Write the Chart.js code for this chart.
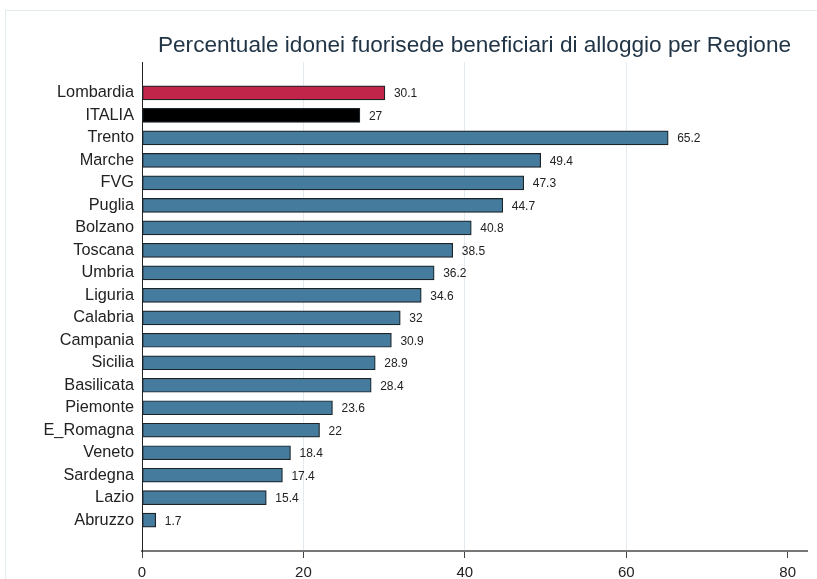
<!DOCTYPE html>
<html>
<head>
<meta charset="utf-8">
<script src="https://cdn.jsdelivr.net/npm/chart.js@4/dist/chart.umd.min.js"></script>
<style>
  html, body { margin: 0; padding: 0; background: #fff; }
  #wrap { position: relative; width: 817px; height: 579px; overflow: hidden; }
  #frame { position: absolute; left: 5px; top: 10px; width: 900px; height: 700px; border: 1px solid #e3ecec; }
  canvas { position: absolute; left: 0; top: 0; }
</style>
</head>
<body>
<div id="wrap">
  <div id="frame"></div>
  <canvas id="chart" width="817" height="579"></canvas>
</div>
<script>
const regions = ['Lombardia', 'ITALIA', 'Trento', 'Marche', 'FVG', 'Puglia', 'Bolzano', 'Toscana', 'Umbria', 'Liguria',
  'Calabria', 'Campania', 'Sicilia', 'Basilicata', 'Piemonte', 'E_Romagna', 'Veneto', 'Sardegna', 'Lazio', 'Abruzzo'];
const percentuali = [30.1, 27, 65.2, 49.4, 47.3, 44.7, 40.8, 38.5, 36.2, 34.6,
  32, 30.9, 28.9, 28.4, 23.6, 22, 18.4, 17.4, 15.4, 1.7];
const xTicks = [0, 20, 40, 60, 80];

const FONT = 'Arial, "Liberation Sans", Helvetica, sans-serif';

const barColors = regions.map(r => r === 'Lombardia' ? '#c1264a' : (r === 'ITALIA' ? '#000000' : '#457b9d'));

// value labels right of each bar
const valueLabels = {
  id: 'valueLabels',
  afterDatasetsDraw(chart) {
    const ctx = chart.ctx;
    const meta = chart.getDatasetMeta(0);
    ctx.save();
    ctx.font = '12px ' + FONT;
    ctx.fillStyle = '#222';
    ctx.textAlign = 'left';
    ctx.textBaseline = 'middle';
    meta.data.forEach((bar, i) => {
      ctx.fillText(String(percentuali[i]), bar.x + 9, bar.y + 1);
    });
    ctx.restore();
  }
};

new Chart(document.getElementById('chart'), {
  type: 'bar',
  data: {
    labels: regions,
    datasets: [{
      data: percentuali,
      backgroundColor: barColors,
      borderColor: '#1c2329',
      borderWidth: 1.2,
      borderSkipped: false,
      barThickness: 14
    }]
  },
  options: {
    indexAxis: 'y',
    responsive: false,
    animation: false,
    layout: { padding: { left: 0, right: 10, top: 0, bottom: 0 } },
    plugins: {
      legend: { display: false },
      tooltip: { enabled: false },
      title: {
        display: true,
        text: 'Percentuale idonei fuorisede beneficiari di alloggio per Regione',
        fullSize: false,
        color: '#213547',
        font: { family: FONT, size: 22.6, weight: 'normal' },
        padding: { top: 32, bottom: 3 }
      }
    },
    scales: {
      x: {
        min: 0,
        max: 82.4,
        afterBuildTicks(axis) { axis.ticks = xTicks.map(v => ({ value: v })); },
        afterFit(axis) { axis.height = 28; },
        grid: {
          color: ctx => (ctx.tick && (ctx.tick.value === 0 || ctx.tick.value === 80)) ? 'rgba(0,0,0,0)' : '#e3ebf0',
          lineWidth: 1,
          drawTicks: true,
          tickLength: 7,
          tickColor: '#444',
          tickWidth: 1
        },
        border: { display: true, color: '#777', width: 2 },
        ticks: {
          color: '#222',
          padding: 6,
          font: { family: FONT, size: 15 }
        }
      },
      y: {
        afterBuildTicks(axis) {
          // extra empty space above the first and below the last bar
          axis._startValue -= 0.87;
          axis._valueRange += 1.74;
        },
        afterFit(axis) { axis.width = 142; },
        grid: { display: false, drawTicks: false },
        border: { display: true, color: '#222', width: 1 },
        ticks: {
          color: '#222',
          padding: 8,
          font: { family: FONT, size: 16.3 }
        }
      }
    }
  },
  plugins: [valueLabels]
});
</script>
</body>
</html>
